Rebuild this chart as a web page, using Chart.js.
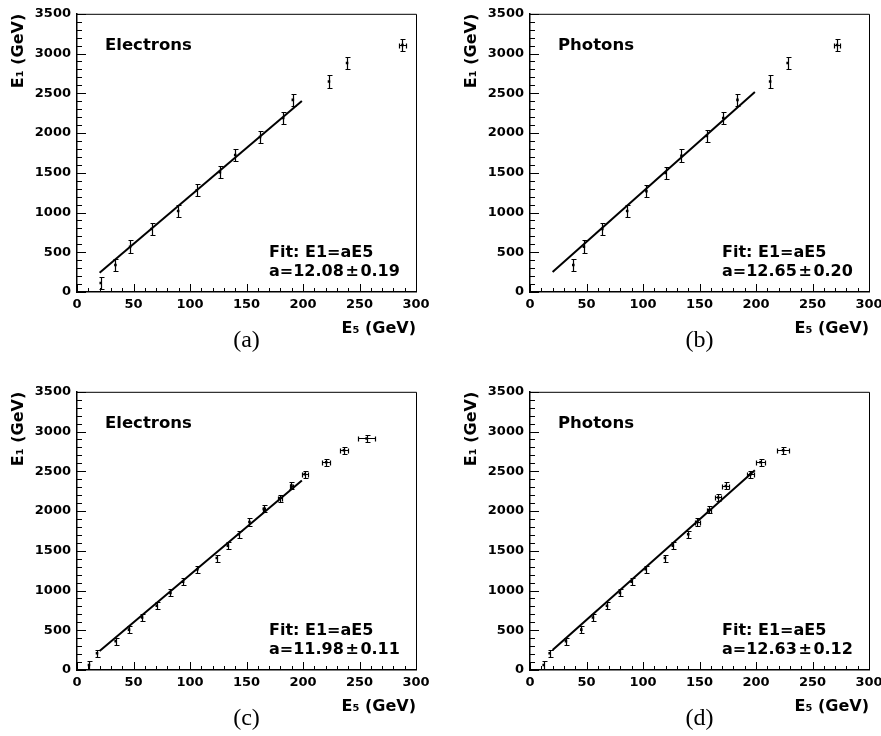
<!DOCTYPE html>
<html>
<head>
<meta charset="utf-8">
<script src="https://cdn.jsdelivr.net/npm/chart.js@4.4.0/dist/chart.umd.min.js"></script>
<style>
html,body{margin:0;padding:0;background:#fff;}
body{width:881px;height:736px;overflow:hidden;position:relative;}
.panel{position:absolute;width:440px;height:360px;}
.panel canvas{display:block;}
</style>
</head>
<body>
<div class="panel" style="left:0px;top:0px"><canvas id="pa" width="440" height="360"></canvas></div>
<div class="panel" style="left:453px;top:0px"><canvas id="pb" width="440" height="360"></canvas></div>
<div class="panel" style="left:0px;top:378px"><canvas id="pc" width="440" height="360"></canvas></div>
<div class="panel" style="left:453px;top:378px"><canvas id="pd" width="440" height="360"></canvas></div>
<script>
// ---------- data ----------
const xTickLabels = [0, 50, 100, 150, 200, 250, 300];
const yTickLabels = [0, 500, 1000, 1500, 2000, 2500, 3000, 3500];
const xTitle = 'E\u2085 (GeV)';
const yTitle = 'E\u2081 (GeV)';
const panelCaptions = ['(a)', '(b)', '(c)', '(d)'];
const particleLabels = ['Electrons', 'Photons', 'Electrons', 'Photons'];
const fitFormula = 'Fit: E1=aE5';
const fitSlopes = ['12.08', '12.65', '11.98', '12.63'];
const fitSlopeErrors = ['0.19', '0.20', '0.11', '0.12'];

// (a) electrons
const aE5    = [21, 34, 47, 66, 89.5, 106, 126.5, 140, 162, 182.5, 191, 223, 239, 288];
const aE1    = [113, 339, 570, 793, 1020, 1281, 1508, 1723, 1950, 2190, 2417, 2649, 2880, 3108];
const aE5err = [0, 0, 0, 0, 0, 0, 0, 0, 0, 0, 0, 0, 0, 3];
const aE1err = [78, 78, 78, 78, 78, 78, 78, 78, 78, 78, 78, 78, 78, 80];
const aFitE5 = [20, 199];
const aFitE1 = [242, 2404];

// (b) photons
const bE5    = [38.3, 47.7, 64, 86, 103, 120, 134, 156.5, 171, 183.6, 212.5, 228, 271.7];
const bE1    = [339, 570, 793, 1020, 1269, 1496, 1715, 1963, 2190, 2417, 2649, 2880, 3108];
const bE5err = [0, 0, 0, 0, 0, 0, 0, 0, 0, 0, 0, 0, 3];
const bE1err = [78, 78, 78, 78, 78, 78, 78, 78, 78, 78, 78, 78, 80];
const bFitE5 = [20, 199];
const bFitE1 = [253, 2517];

// (c) electrons
const cE5    = [10.6, 17.7, 34.2, 46, 57.6, 70.6, 82.7, 93.9, 106.6, 123.7, 133.5, 143.2, 152.6, 165.3, 179.5, 189.8, 201.6, 220.5, 236.2, 256.3];
const cE1    = [62, 210, 363, 508, 660, 809, 970, 1110, 1267, 1408, 1565, 1709, 1862, 2027, 2159, 2320, 2464, 2613, 2765, 2913];
const cE5err = [0, 0, 0, 0, 0, 0, 0, 0, 0, 0, 0, 0, 0, 1, 1.5, 1.5, 2.8, 3.8, 3.2, 7.2];
const cE1err = [45, 45, 45, 45, 45, 45, 45, 45, 45, 45, 45, 45, 45, 45, 45, 45, 45, 45, 45, 45];
const cFitE5 = [20, 199];
const cFitE1 = [240, 2384];

// (d) photons
const dE5    = [12.1, 17.4, 31.8, 45.4, 55.7, 68.1, 79.6, 89.9, 102.3, 119.4, 126.4, 140, 148, 158.3, 166.5, 173.3, 195.1, 204, 224];
const dE1    = [62, 210, 363, 508, 660, 809, 970, 1110, 1267, 1408, 1565, 1709, 1862, 2014, 2171, 2316, 2464, 2613, 2765];
const dE5err = [0, 0, 0, 0, 0, 0, 0, 0, 0, 0, 0, 0, 2, 2, 2.5, 3, 3, 4, 5];
const dE1err = [45, 45, 45, 45, 45, 45, 45, 45, 45, 45, 45, 45, 45, 45, 45, 45, 45, 45, 45, 45];
const dFitE5 = [20, 199];
const dFitE1 = [253, 2513];

// ---------- drawing ----------
const SANS = '"DejaVu Sans", "Liberation Sans", Arial, sans-serif';
const SERIF = '"Liberation Serif", "Times New Roman", serif';

const decor = {
  id: 'decor',
  beforeDatasetsDraw(chart) {
    const o = chart.options.plugins.decor;
    const xs = chart.scales.x, ys = chart.scales.y;
    const ctx = chart.ctx;
    ctx.save();
    ctx.strokeStyle = '#000';
    ctx.lineWidth = 1.2;
    const cap = 2;
    o.e5.forEach((xv, i) => {
      const px = Math.round(xs.getPixelForValue(xv)) + 0.5;
      const py = Math.round(ys.getPixelForValue(o.e1[i])) + 0.5;
      const ey = o.e1err[i];
      if (ey > 0) {
        const y1 = Math.round(ys.getPixelForValue(o.e1[i] + ey)) + 0.5;
        const y2 = Math.round(ys.getPixelForValue(o.e1[i] - ey)) + 0.5;
        ctx.beginPath();
        ctx.moveTo(px, y1); ctx.lineTo(px, y2);
        ctx.moveTo(px - cap, y1); ctx.lineTo(px + cap + 1, y1);
        ctx.moveTo(px - cap, y2); ctx.lineTo(px + cap + 1, y2);
        ctx.stroke();
      }
      const ex = o.e5err[i];
      if (ex > 0) {
        const x1 = Math.round(xs.getPixelForValue(xv - ex)) + 0.5;
        const x2 = Math.round(xs.getPixelForValue(xv + ex)) + 0.5;
        ctx.beginPath();
        ctx.moveTo(x1, py); ctx.lineTo(x2, py);
        ctx.moveTo(x1, py - cap); ctx.lineTo(x1, py + cap + 1);
        ctx.moveTo(x2, py - cap); ctx.lineTo(x2, py + cap + 1);
        ctx.stroke();
      }
    });
    ctx.restore();
  },
  afterDraw(chart) {
    const o = chart.options.plugins.decor;
    const ctx = chart.ctx;
    const a = chart.chartArea;
    const xs = chart.scales.x, ys = chart.scales.y;
    ctx.save();
    // frame top/right
    ctx.strokeStyle = '#000';
    ctx.lineWidth = 1;
    ctx.beginPath();
    ctx.moveTo(a.left, a.top + 0.5); ctx.lineTo(a.right + 0.5, a.top + 0.5);
    ctx.lineTo(a.right + 0.5, a.bottom);
    ctx.stroke();
    // inward ticks
    ctx.beginPath();
    const xt = xs.ticks.map(t => t.value);
    for (let i = 0; i < xt.length; i++) {
      const p = Math.round(xs.getPixelForValue(xt[i])) + 0.5;
      ctx.moveTo(p, a.bottom); ctx.lineTo(p, a.bottom - 8);
      if (i < xt.length - 1) {
        const step = (xt[i + 1] - xt[i]) / 5;
        for (let k = 1; k < 5; k++) {
          const q = Math.round(xs.getPixelForValue(xt[i] + k * step)) + 0.5;
          ctx.moveTo(q, a.bottom); ctx.lineTo(q, a.bottom - 4);
        }
      }
    }
    const yt = ys.ticks.map(t => t.value);
    for (let i = 0; i < yt.length; i++) {
      const p = Math.round(ys.getPixelForValue(yt[i])) + 0.5;
      ctx.moveTo(a.left, p); ctx.lineTo(a.left + 9, p);
      if (i < yt.length - 1) {
        const step = (yt[i + 1] - yt[i]) / 5;
        for (let k = 1; k < 5; k++) {
          const q = Math.round(ys.getPixelForValue(yt[i] + k * step)) + 0.5;
          ctx.moveTo(a.left, q); ctx.lineTo(a.left + 5, q);
        }
      }
    }
    ctx.stroke();
    // texts
    ctx.fillStyle = '#000';
    ctx.textBaseline = 'middle';
    ctx.textAlign = 'left';
    ctx.font = 'bold 16.5px ' + SANS;
    ctx.fillText(o.label, a.left + 28, a.top + 32);
    ctx.font = 'bold 16px ' + SANS;
    ctx.fillText(fitFormula, a.left + 192, a.top + 239);
    ctx.fillText('a=' + o.slope + '\u200A\u00B1\u200A' + o.slopeErr, a.left + 192, a.top + 258);
    // caption
    ctx.textAlign = 'center';
    ctx.font = '24px ' + SERIF;
    ctx.fillText(o.caption, (a.left + a.right) / 2, a.bottom + 49);
    ctx.restore();
  }
};

function pts(xv, yv) { return xv.map((x, i) => ({x: x, y: yv[i]})); }

function makeChart(id, idx, e5, e1, e5err, e1err, fitE5, fitE1) {
  const tickFont = {family: SANS, size: 13, weight: 'bold'};
  const titleFont = {family: SANS, size: 16, weight: 'bold'};
  new Chart(document.getElementById(id), {
    type: 'scatter',
    data: {
      datasets: [
        {type: 'line', data: pts(fitE5, fitE1), borderColor: '#000', borderWidth: 2,
         pointRadius: 0, fill: false, tension: 0},
        {type: 'scatter', data: pts(e5, e1), pointStyle: 'rect', pointRadius: 1.8,
         backgroundColor: '#000', borderColor: '#000', borderWidth: 0}
      ]
    },
    options: {
      responsive: false,
      animation: false,
      events: [],
      layout: {padding: {left: 0, top: 9, right: 24, bottom: 0}},
      plugins: {
        legend: {display: false},
        tooltip: {enabled: false},
        decor: {e5: e5, e1: e1, e5err: e5err, e1err: e1err,
                label: particleLabels[idx], slope: fitSlopes[idx],
                slopeErr: fitSlopeErrors[idx], caption: panelCaptions[idx]}
      },
      scales: {
        x: {
          type: 'linear', min: 0, max: 300,
          afterBuildTicks: s => { s.ticks = xTickLabels.map(v => ({value: v})); },
          afterFit: s => { s.height = 68; },
          grid: {display: false, drawTicks: false},
          border: {display: true, color: '#000', width: 1.5},
          ticks: {font: tickFont, color: '#000', padding: 5, maxRotation: 0, autoSkip: false,
                  callback: v => String(v)},
          title: {display: true, text: xTitle, align: 'end', font: titleFont, color: '#000',
                  padding: {top: 0, bottom: 22}}
        },
        y: {
          type: 'linear', min: 0, max: 3500,
          afterBuildTicks: s => { s.ticks = yTickLabels.map(v => ({value: v})); },
          afterFit: s => { s.width = 77; },
          grid: {display: false, drawTicks: false},
          border: {display: true, color: '#000', width: 1.5},
          ticks: {font: tickFont, color: '#000', padding: 6, autoSkip: false,
                  callback: v => String(v)},
          title: {display: true, text: yTitle, align: 'end', font: titleFont, color: '#000',
                  padding: {top: 9, bottom: 0}}
        }
      }
    },
    plugins: [decor]
  });
}

makeChart('pa', 0, aE5, aE1, aE5err, aE1err, aFitE5, aFitE1);
makeChart('pb', 1, bE5, bE1, bE5err, bE1err, bFitE5, bFitE1);
makeChart('pc', 2, cE5, cE1, cE5err, cE1err, cFitE5, cFitE1);
makeChart('pd', 3, dE5, dE1, dE5err, dE1err, dFitE5, dFitE1);
</script>
</body>
</html>
